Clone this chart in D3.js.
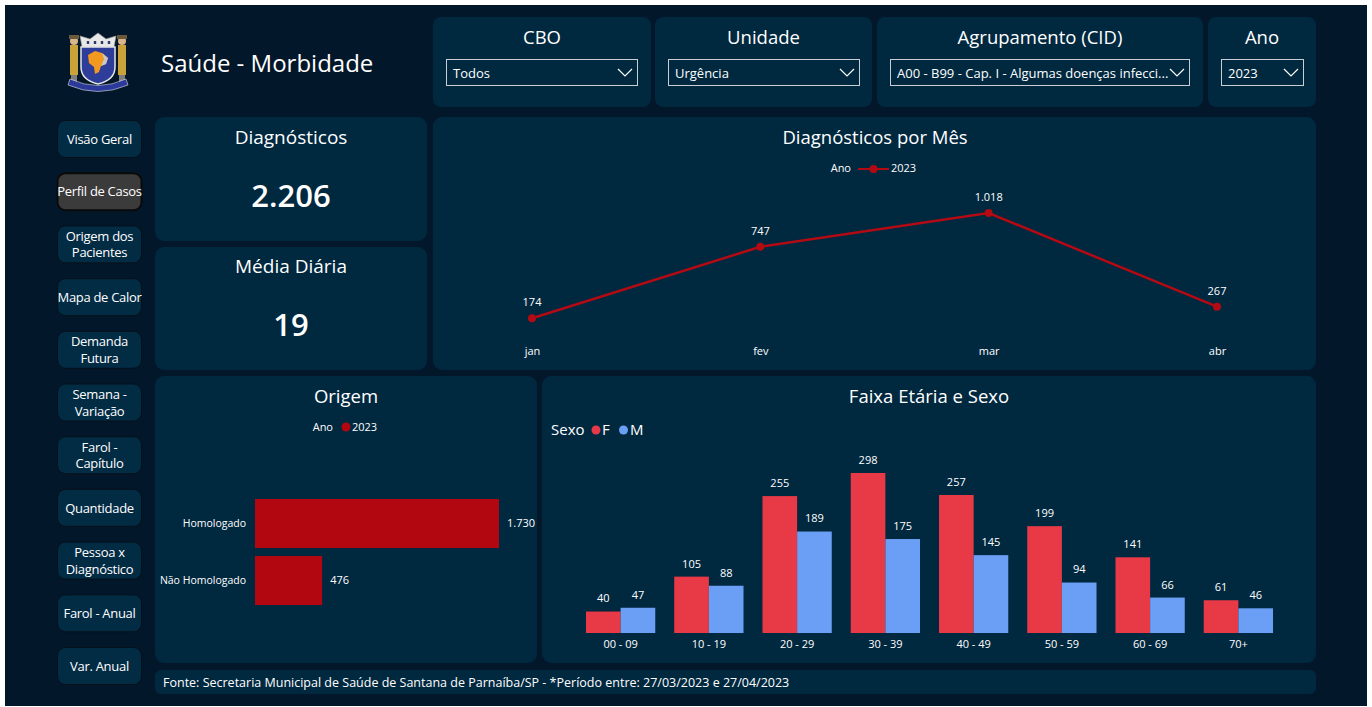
<!DOCTYPE html>
<html>
<head>
<meta charset="utf-8">
<script src="https://cdn.jsdelivr.net/npm/d3@7"></script>
<style>
  body { margin: 0; background: #ffffff; }
  svg { display: block; font-family: "Segoe UI", "Open Sans", sans-serif; }
  text { fill: #ffffff; }
</style>
</head>
<body>
<svg id="chart"></svg>
<script>
// dados do painel
var menu = ["Visão Geral", "Perfil de Casos", "Origem dos|Pacientes", "Mapa de Calor", "Demanda|Futura",
	"Semana -|Variação", "Farol -|Capítulo", "Quantidade", "Pessoa x|Diagnóstico", "Farol - Anual", "Var. Anual"];
var filtros = ["CBO", "Unidade", "Agrupamento (CID)", "Ano"];
var filtroValores = ["Todos", "Urgência", "A00 - B99 - Cap. I - Algumas doenças infecci...", "2023"];
var meses = ["jan", "fev", "mar", "abr"];
var diagMes = [174, 747, 1018, 267];
var origemCat = ["Homologado", "Não Homologado"];
var origemVal = [1730, 476];
var faixas = ["00 - 09", "10 - 19", "20 - 29", "30 - 39", "40 - 49", "50 - 59", "60 - 69", "70+"];
var fem = [40, 105, 255, 298, 257, 199, 141, 61];
var masc = [47, 88, 189, 175, 145, 94, 66, 46];
var totalDiag = 2206;
var mediaDiaria = 19;

var width = 1372,
	height = 707;

var BG = "#03172a",
	PANEL = "#00283f",
	RED_LINE = "#b30a14",
	RED_BAR = "#b20710",
	COR_F = "#e83a46",
	COR_M = "#6a9ff5";

var ptBR = d3.formatLocale({ decimal: ",", thousands: ".", grouping: [3], currency: ["R$", ""] });
var fmt = ptBR.format(",d");

var svg = d3.select("#chart").attr("width", width).attr("height", height);

svg.append("rect").attr("width", width).attr("height", height).attr("fill", "#ffffff");
svg.append("rect").attr("x", 5).attr("y", 5).attr("width", 1362).attr("height", 701).attr("fill", BG);

function panel(x, y, w, h, r) {
	return svg.append("rect")
		.attr("x", x).attr("y", y)
		.attr("width", w).attr("height", h)
		.attr("rx", r || 9)
		.attr("fill", PANEL);
}

// texto centralizado (Open Sans fica ~2px alto com "middle")
function label(x, y, txt, size, anchor) {
	return svg.append("text")
		.attr("x", x).attr("y", y + size * 0.1)
		.attr("text-anchor", anchor || "middle")
		.attr("dominant-baseline", "middle")
		.style("font-size", size + "px")
		.text(txt);
}

// ---------- cabeçalho ----------
drawLogo(98, 61);

label(161, 63, "Saúde - Morbidade", 24, "start");

// filtros
var filtroBoxes = [
	{ x: 433, w: 218, dx: 446, dw: 191 },
	{ x: 655, w: 217, dx: 668, dw: 191 },
	{ x: 877, w: 326, dx: 890, dw: 299 },
	{ x: 1208, w: 108, dx: 1221, dw: 82 }
];
filtroBoxes.forEach(function (b, i) {
	panel(b.x, 17, b.w, 90, 8);
	label(b.x + b.w / 2, 37, filtros[i], 18.5);
	svg.append("rect")
		.attr("x", b.dx + 0.5).attr("y", 59.5)
		.attr("width", b.dw).attr("height", 26)
		.attr("fill", "none").attr("stroke", "#c9ced4").attr("stroke-width", 1);
	label(b.dx + 7, 73, filtroValores[i], 13, "start");
	var cx = b.dx + b.dw - 12;
	svg.append("path")
		.attr("d", "M" + (cx - 7) + ",69L" + cx + ",76L" + (cx + 7) + ",69")
		.attr("fill", "none").attr("stroke", "#ffffff").attr("stroke-width", 1.2);
});

// ---------- menu lateral ----------
menu.forEach(function (m, i) {
	var y = 120.5 + i * 52.7;
	var ativo = i == 1;
	svg.append("rect")
		.attr("x", 57.5).attr("y", y)
		.attr("width", 84).attr("height", 37)
		.attr("rx", 8)
		.attr("fill", ativo ? "#3b3b3b" : "#022b44")
		.attr("stroke", ativo ? "#0a0a0a" : "#06101a")
		.attr("stroke-width", ativo ? 2 : 1);
	var linhas = m.split("|");
	linhas.forEach(function (l, j) {
		label(99.5, y + 18.5 + (j - (linhas.length - 1) / 2) * 16.5, l, 13)
			.style("letter-spacing", "-0.3px");
	});
});

// ---------- cartões ----------
panel(155, 117, 272, 124);
panel(155, 247, 272, 123);
label(291, 137, "Diagnósticos", 19);
label(291, 196, fmt(totalDiag), 31).style("font-weight", 600);
label(291, 266, "Média Diária", 19);
label(291, 325, fmt(mediaDiaria), 31).style("font-weight", 600);

// ---------- Diagnósticos por Mês ----------
panel(433, 117, 883, 253);
label(875, 137, "Diagnósticos por Mês", 18.5);

var legL = svg.append("g").attr("transform", "translate(0,169)");
legL.append("text").attr("x", 851).attr("dominant-baseline", "middle")
	.attr("text-anchor", "end").style("font-size", "11px").text("Ano");
legL.append("line").attr("x1", 858).attr("x2", 889)
	.attr("stroke", RED_LINE).attr("stroke-width", 2);
legL.append("circle").attr("cx", 873.5).attr("r", 4).attr("fill", RED_LINE);
legL.append("text").attr("x", 891).attr("dominant-baseline", "middle")
	.style("font-size", "11px").text("2023");

var xMes = d3.scalePoint().domain(meses).range([532, 1217]);
var yMes = d3.scaleLinear().domain([0, d3.max(diagMes)]).range([340, 213]);

var axMes = svg.append("g")
	.attr("transform", "translate(0,340)")
	.call(d3.axisBottom(xMes).tickSize(0).tickPadding(7));
axMes.select(".domain").remove();
axMes.selectAll("text").attr("fill", "#ffffff").style("font-size", "11px")
	.style("font-family", "'Segoe UI', 'Open Sans', sans-serif");

var linha = d3.line()
	.x(function (d, i) { return xMes(meses[i]); })
	.y(function (d) { return yMes(d); });

svg.append("path")
	.datum(diagMes)
	.attr("d", linha)
	.attr("fill", "none")
	.attr("stroke", RED_LINE)
	.attr("stroke-width", 2.5);

svg.append("g").selectAll("circle")
	.data(diagMes).enter()
	.append("circle")
	.attr("cx", function (d, i) { return xMes(meses[i]); })
	.attr("cy", function (d) { return yMes(d); })
	.attr("r", 4)
	.attr("fill", RED_LINE);

svg.append("g").selectAll("text")
	.data(diagMes).enter()
	.append("text")
	.attr("x", function (d, i) { return xMes(meses[i]); })
	.attr("y", function (d) { return yMes(d) - 15; })
	.attr("text-anchor", "middle").attr("dominant-baseline", "middle")
	.style("font-size", "11px")
	.text(function (d) { return fmt(d); });

// ---------- Origem ----------
panel(155, 376, 382, 287);
label(346, 396, "Origem", 18.5);
svg.append("text").attr("x", 333).attr("y", 428).attr("text-anchor", "end")
	.attr("dominant-baseline", "middle").style("font-size", "11px").text("Ano");
svg.append("circle").attr("cx", 346).attr("cy", 427).attr("r", 4.5).attr("fill", RED_BAR);
svg.append("text").attr("x", 352).attr("y", 428)
	.attr("dominant-baseline", "middle").style("font-size", "11px").text("2023");

var yOri = d3.scaleBand().domain(origemCat).range([499, 605]).paddingInner(0.14).paddingOuter(0);
var xOri = d3.scaleLinear().domain([0, d3.max(origemVal)]).range([255, 499]);

svg.append("g").selectAll("rect")
	.data(origemVal).enter()
	.append("rect")
	.attr("x", xOri(0))
	.attr("y", function (d, i) { return yOri(origemCat[i]); })
	.attr("width", function (d) { return xOri(d) - xOri(0); })
	.attr("height", yOri.bandwidth())
	.attr("fill", RED_BAR);

svg.append("g").selectAll("text")
	.data(origemVal).enter()
	.append("text")
	.attr("x", function (d) { return xOri(d) + 8; })
	.attr("y", function (d, i) { return yOri(origemCat[i]) + yOri.bandwidth() / 2 + 1; })
	.attr("dominant-baseline", "middle")
	.style("font-size", "11px")
	.text(function (d) { return fmt(d); });

var axOri = svg.append("g")
	.attr("transform", "translate(" + xOri(0) + ",0)")
	.call(d3.axisLeft(yOri).tickSize(0).tickPadding(9));
axOri.select(".domain").remove();
axOri.selectAll("text").attr("fill", "#ffffff").style("font-size", "10.5px")
	.style("font-family", "'Segoe UI', 'Open Sans', sans-serif");

// ---------- Faixa Etária e Sexo ----------
panel(542, 376, 774, 287);
label(929, 396, "Faixa Etária e Sexo", 18.5);

var legS = svg.append("g").attr("transform", "translate(0,431)");
legS.append("text").attr("x", 551).attr("dominant-baseline", "middle")
	.style("font-size", "15px").text("Sexo");
legS.append("circle").attr("cx", 596).attr("cy", -1).attr("r", 4.5).attr("fill", COR_F);
legS.append("text").attr("x", 602).attr("dominant-baseline", "middle")
	.style("font-size", "15px").text("F");
legS.append("circle").attr("cx", 623.5).attr("cy", -1).attr("r", 4.5).attr("fill", COR_M);
legS.append("text").attr("x", 630).attr("dominant-baseline", "middle")
	.style("font-size", "15px").text("M");

var x0 = d3.scaleBand().domain(faixas).range([576.5, 1282.5]).paddingInner(0.215).paddingOuter(0.1075);
var x1 = d3.scaleBand().domain(["F", "M"]).range([0, x0.bandwidth()]);
var ySx = d3.scaleLinear().domain([0, d3.max(fem)]).range([633, 473]);

var grupos = faixas.map(function (f, i) {
	return { faixa: f, valores: [{ s: "F", v: fem[i] }, { s: "M", v: masc[i] }] };
});

var g = svg.append("g").selectAll("g")
	.data(grupos).enter()
	.append("g")
	.attr("transform", function (d) { return "translate(" + x0(d.faixa) + ",0)"; });

g.selectAll("rect")
	.data(function (d) { return d.valores; }).enter()
	.append("rect")
	.attr("x", function (d) { return x1(d.s); })
	.attr("y", function (d) { return ySx(d.v); })
	.attr("width", x1.bandwidth())
	.attr("height", function (d) { return ySx(0) - ySx(d.v); })
	.attr("fill", function (d) { return d.s == "F" ? COR_F : COR_M; });

g.selectAll("text")
	.data(function (d) { return d.valores; }).enter()
	.append("text")
	.attr("x", function (d) { return x1(d.s) + x1.bandwidth() / 2; })
	.attr("y", function (d) { return ySx(d.v) - 12; })
	.attr("text-anchor", "middle").attr("dominant-baseline", "middle")
	.style("font-size", "11px")
	.text(function (d) { return fmt(d.v); });

var axSx = svg.append("g")
	.attr("transform", "translate(0,633)")
	.call(d3.axisBottom(x0).tickSize(0).tickPadding(7));
axSx.select(".domain").remove();
axSx.selectAll("text").attr("fill", "#ffffff").style("font-size", "11px")
	.style("font-family", "'Segoe UI', 'Open Sans', sans-serif");

// ---------- rodapé ----------
panel(155, 670, 1161, 24, 6);
label(163, 682, "Fonte: Secretaria Municipal de Saúde de Santana de Parnaíba/SP - *Período entre: 27/03/2023 e 27/04/2023", 12.5, "start");

// brasão simplificado
function drawLogo(cx, cy) {
	var l = svg.append("g").attr("transform", "translate(" + cx + "," + cy + ")");
	// figuras laterais
	[-1, 1].forEach(function (s) {
		l.append("rect").attr("x", s * 24 - 4).attr("y", -16).attr("width", 8).attr("height", 30)
			.attr("fill", "#c9a33a");
		l.append("circle").attr("cx", s * 24).attr("cy", -20).attr("r", 4).attr("fill", "#d8b58a");
		l.append("rect").attr("x", s * 24 - 5).attr("y", -26).attr("width", 10).attr("height", 4)
			.attr("fill", "#6b5a3a");
		l.append("rect").attr("x", s * 24 - 3).attr("y", 14).attr("width", 6).attr("height", 8)
			.attr("fill", "#7d7d7d");
	});
	// coroa
	l.append("path").attr("d", "M-16,-14L-18,-25L-8,-22L0,-28L8,-22L18,-25L16,-14Z")
		.attr("fill", "#e8e8e8").attr("stroke", "#9a9a9a").attr("stroke-width", 0.6);
	[-10, -3, 4, 11].forEach(function (dx) {
		l.append("rect").attr("x", dx - 1.2).attr("y", -20).attr("width", 2.4).attr("height", 3)
			.attr("fill", "#2b3a66");
	});
	// escudo
	l.append("path").attr("d", "M-17,-14L17,-14L17,6Q17,19 0,23Q-17,19 -17,6Z")
		.attr("fill", "#2f3d9a").attr("stroke", "#e6e6e6").attr("stroke-width", 1.5);
	// mapa
	l.append("path").attr("d", "M-10,-6L-3,-10L4,-8L10,-3L8,3L3,5L1,11L-3,13L-4,6L-9,2Z")
		.attr("fill", "#f29a1f");
	l.append("path").attr("d", "M4,-8L10,-3L8,3L3,5L6,-2Z").attr("fill", "#c8c8c8");
	// fita
	l.append("path").attr("d", "M-28,18Q0,31 28,18L30,24Q0,37 -30,24Z")
		.attr("fill", "#2b3a9a").attr("stroke", "#dddddd").attr("stroke-width", 0.6);
}
</script>
</body>
</html>
